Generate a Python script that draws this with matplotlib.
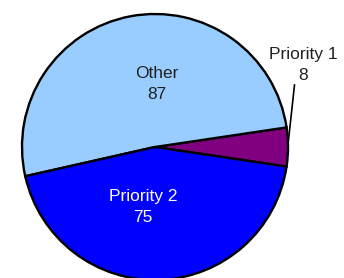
import numpy as np
import matplotlib
matplotlib.use('Agg')
import matplotlib.pyplot as plt

labels = ['Priority 1', 'Other', 'Priority 2']
values = [8, 87, 75]
colors = ['#800080', '#99CCFF', '#0000FF']

W, H = 344, 278
fig = plt.figure(figsize=(W / 100, H / 100), dpi=100)
ax = fig.add_axes([0, 0, 1, 1])

cx, cy, r = 155, 131, 133
start = -values[0] / sum(values) * 180
wedges, _ = ax.pie(values, colors=colors, startangle=start, counterclock=True,
                   center=(cx, cy), radius=r, frame=True,
                   wedgeprops=dict(edgecolor='black', linewidth=1.7))
ax.set_xlim(0, W)
ax.set_ylim(0, H)
ax.set_aspect('equal')
ax.axis('off')

font = ['Liberation Sans', 'DejaVu Sans']
ax.text(157, H - 84, '%s\n%d' % (labels[1], values[1]), ha='center', va='center',
        fontsize=12.5, family=font, color='#222222', linespacing=1.45)
ax.text(143, H - 207, '%s\n%d' % (labels[2], values[2]), ha='center', va='center',
        fontsize=12.5, family=font, color='white', linespacing=1.45)
ax.text(303, H - 65, '%s\n%d' % (labels[0], values[0]), ha='center', va='center',
        fontsize=12.5, family=font, color='#222222', linespacing=1.45)
ax.plot([288.5, 294.5], [H - 140, H - 85], color='black', linewidth=1.2)

fig.savefig('out.png', dpi=100)
